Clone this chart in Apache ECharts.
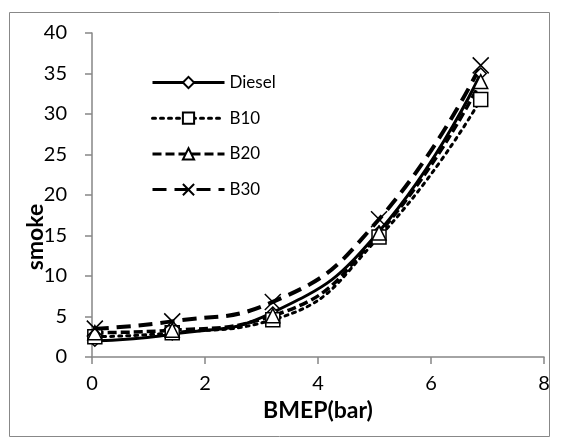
<!DOCTYPE html>
<html>
<head>
<meta charset="utf-8">
<script src="https://cdn.jsdelivr.net/npm/echarts@6/dist/echarts.min.js"></script>
<style>
html,body{margin:0;padding:0;background:#fff;}
#chart{width:561px;height:440px;}
</style>
</head>
<body>
<div id="chart"></div>
<script>
var bmep = [0.05, 1.42, 3.2, 5.08, 6.88];
var diesel = [2.0, 2.8, 5.5, 15.5, 35.0];
var b10 = [2.5, 3.0, 4.6, 14.8, 31.8];
var b20 = [3.0, 3.3, 5.1, 15.3, 34.0];
var b30 = [3.5, 4.4, 6.8, 17.0, 36.0];
var seriesNames = ['Diesel', 'B10', 'B20', 'B30'];
var xTicks = [0, 2, 4, 6, 8];
var yTicks = [0, 5, 10, 15, 20, 25, 30, 35, 40];

function pairs(ys){ return bmep.map(function(x,i){ return [x, ys[i]]; }); }

var FONT = 'Lato';
var chart = echarts.init(document.getElementById('chart'), null, {renderer:'canvas'});
var option = {
  animation: false,
  backgroundColor: '#fff',
  textStyle: {fontFamily: FONT},
  grid: {left: 92, right: 17, top: 33, bottom: 83, containLabel: false},
  legend: {
    orient: 'vertical',
    left: 146, top: 69,
    itemWidth: 72, itemHeight: 14, itemGap: 18.7,
    lineStyle: {width: 3},
    textStyle: {fontFamily: FONT, fontSize: 17, color: '#000'},
    data: seriesNames
  },
  xAxis: {
    type: 'value', min: xTicks[0], max: xTicks[xTicks.length-1], interval: 2,
    name: 'BMEP(bar)', nameLocation: 'middle', nameGap: 42,
    nameTextStyle: {fontFamily: FONT, fontSize: 23, fontWeight: 'bold', color: '#000'},
    axisLine: {show: true, lineStyle: {color: '#868686', width: 1.5}},
    axisTick: {show: true, inside: false, length: 7, lineStyle: {color: '#868686', width: 1.5}},
    axisLabel: {fontFamily: FONT, fontSize: 20, color: '#000', margin: 17},
    splitLine: {show: false}
  },
  yAxis: {
    type: 'value', min: yTicks[0], max: yTicks[yTicks.length-1], interval: 5,
    axisLine: {show: true, lineStyle: {color: '#868686', width: 1.5}},
    axisTick: {show: true, inside: false, length: 7, lineStyle: {color: '#868686', width: 1.5}},
    axisLabel: {fontFamily: FONT, fontSize: 20, color: '#000', margin: 25},
    splitLine: {show: false}
  },
  graphic: [
    {type: 'rect', shape: {x: 9.5, y: 12.5, width: 540, height: 424},
     style: {fill: 'none', stroke: '#888', lineWidth: 1}, silent: true, z: -10},
    {type: 'text', x: 36, y: 237, rotation: Math.PI/2,
     style: {text: 'smoke', fontFamily: FONT, fontSize: 23, fontWeight: 'bold', fill: '#000',
             textAlign: 'center', textVerticalAlign: 'middle'}}
  ],
  series: [
    {name: 'Diesel', type: 'line', smooth: true, data: pairs(diesel),
     symbol: 'diamond', symbolSize: 11,
     itemStyle: {color: '#fff', borderColor: '#000', borderWidth: 1.5},
     lineStyle: {color: '#000', width: 3, type: 'solid'}},
    {name: 'B10', type: 'line', smooth: true, data: pairs(b10),
     symbol: 'rect', symbolSize: 14,
     itemStyle: {color: '#fff', borderColor: '#000', borderWidth: 1.5},
     lineStyle: {color: '#000', width: 3, type: [3, 5], cap: 'round'}},
    {name: 'B20', type: 'line', smooth: true, data: pairs(b20),
     symbol: 'triangle', symbolSize: 14,
     itemStyle: {color: '#fff', borderColor: '#000', borderWidth: 1.5},
     lineStyle: {color: '#000', width: 3.5, type: [9, 4]}},
    {name: 'B30', type: 'line', smooth: true, data: pairs(b30),
     symbol: 'path://M0,0L10,10M10,0L0,10', symbolSize: 16,
     itemStyle: {color: '#000', borderColor: '#000', borderWidth: 1.5},
     lineStyle: {color: '#000', width: 4, type: [14, 8]}}
  ]
};
chart.setOption(option);
</script>
</body>
</html>
